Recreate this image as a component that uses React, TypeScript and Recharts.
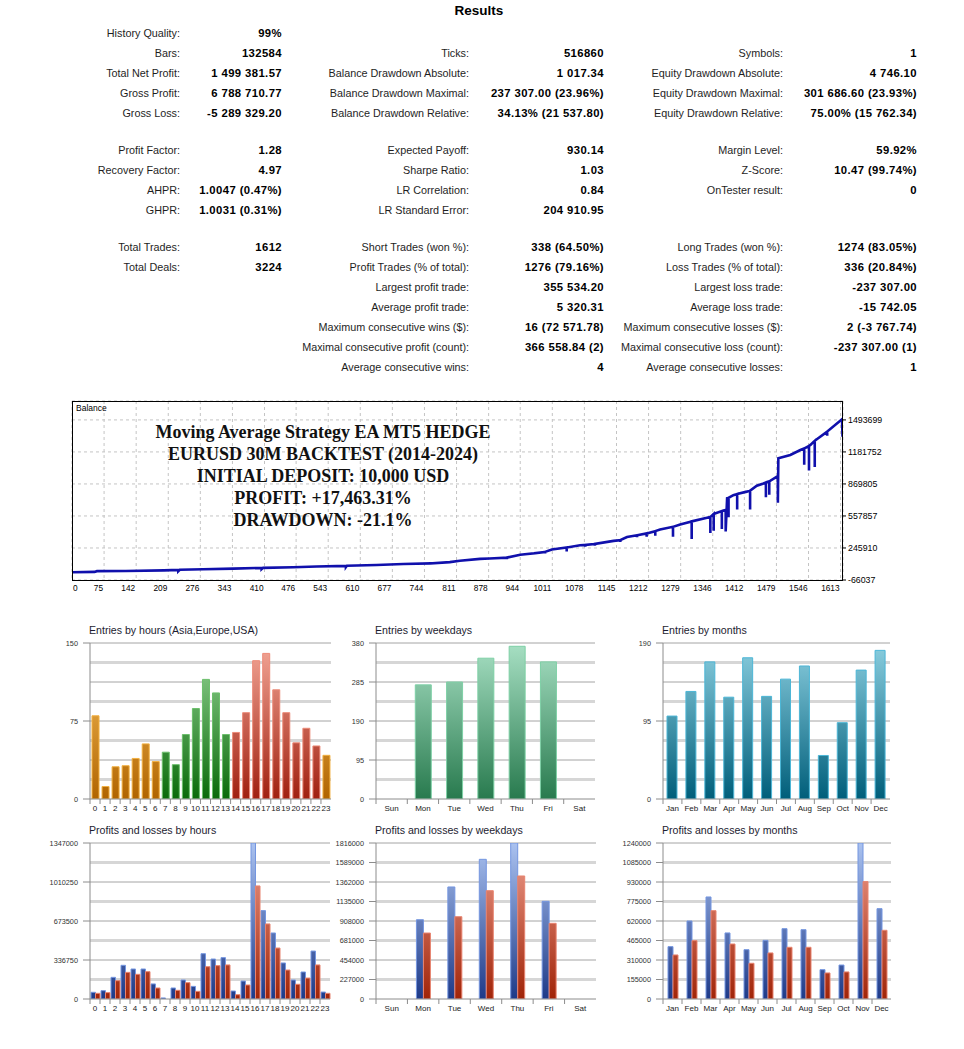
import React from 'react';
import { BarChart, Bar, XAxis, YAxis, CartesianGrid, Cell, LineChart, Line } from 'recharts';

// ---- report values ----
const rowY = [33, 53, 73, 93, 113, 150, 170, 190, 210, 247, 267, 287, 307, 327, 347, 367];

const col1: [number, string, string][] = [
  [0, 'History Quality:', '99%'],
  [1, 'Bars:', '132584'],
  [2, 'Total Net Profit:', '1 499 381.57'],
  [3, 'Gross Profit:', '6 788 710.77'],
  [4, 'Gross Loss:', '-5 289 329.20'],
  [5, 'Profit Factor:', '1.28'],
  [6, 'Recovery Factor:', '4.97'],
  [7, 'AHPR:', '1.0047 (0.47%)'],
  [8, 'GHPR:', '1.0031 (0.31%)'],
  [9, 'Total Trades:', '1612'],
  [10, 'Total Deals:', '3224'],
];
const col2: [number, string, string][] = [
  [1, 'Ticks:', '516860'],
  [2, 'Balance Drawdown Absolute:', '1 017.34'],
  [3, 'Balance Drawdown Maximal:', '237 307.00 (23.96%)'],
  [4, 'Balance Drawdown Relative:', '34.13% (21 537.80)'],
  [5, 'Expected Payoff:', '930.14'],
  [6, 'Sharpe Ratio:', '1.03'],
  [7, 'LR Correlation:', '0.84'],
  [8, 'LR Standard Error:', '204 910.95'],
  [9, 'Short Trades (won %):', '338 (64.50%)'],
  [10, 'Profit Trades (% of total):', '1276 (79.16%)'],
  [11, 'Largest profit trade:', '355 534.20'],
  [12, 'Average profit trade:', '5 320.31'],
  [13, 'Maximum consecutive wins ($):', '16 (72 571.78)'],
  [14, 'Maximal consecutive profit (count):', '366 558.84 (2)'],
  [15, 'Average consecutive wins:', '4'],
];
const col3: [number, string, string][] = [
  [1, 'Symbols:', '1'],
  [2, 'Equity Drawdown Absolute:', '4 746.10'],
  [3, 'Equity Drawdown Maximal:', '301 686.60 (23.93%)'],
  [4, 'Equity Drawdown Relative:', '75.00% (15 762.34)'],
  [5, 'Margin Level:', '59.92%'],
  [6, 'Z-Score:', '10.47 (99.74%)'],
  [7, 'OnTester result:', '0'],
  [9, 'Long Trades (won %):', '1274 (83.05%)'],
  [10, 'Loss Trades (% of total):', '336 (20.84%)'],
  [11, 'Largest loss trade:', '-237 307.00'],
  [12, 'Average loss trade:', '-15 742.05'],
  [13, 'Maximum consecutive losses ($):', '2 (-3 767.74)'],
  [14, 'Maximal consecutive loss (count):', '-237 307.00 (1)'],
  [15, 'Average consecutive losses:', '1'],
];

// ---- balance curve (trade #, balance); repeated trade # = drawdown spike ----
const balanceTrade = [
  8, 55, 60, 120, 200, 230, 230, 233, 282, 345, 404, 404, 407, 470, 519, 580, 580, 582, 644, 700, 756, 756,
  756, 797, 818, 860, 880, 916, 916, 916, 944, 975, 975, 975, 996, 996, 996, 1010, 1041, 1041, 1041, 1069,
  1080, 1080, 1080, 1100, 1100, 1100, 1139, 1153, 1153, 1153, 1167, 1188, 1188, 1188, 1208, 1208, 1208, 1226,
  1226, 1226, 1236, 1263, 1263, 1263, 1278, 1302, 1302, 1302, 1334, 1341, 1341, 1341, 1348, 1348, 1348, 1365,
  1365, 1365, 1372, 1373, 1373, 1376, 1379, 1379, 1379, 1389, 1397, 1397, 1397, 1417, 1424, 1424, 1424, 1438,
  1452, 1457, 1457, 1457, 1464, 1464, 1464, 1480, 1482, 1482, 1483, 1508, 1529, 1537, 1537, 1537, 1547, 1547,
  1547, 1550, 1557, 1559, 1559, 1559, 1564, 1585, 1585, 1585, 1616, 1617, 1618,
];
const balanceValue = [
  10000, 13000, 20000, 22000, 28000, 33000, 20000, 34000, 38000, 45000, 52000, 40000, 52000, 58000, 66000,
  72000, 60000, 73000, 80000, 90000, 96000, 82000, 96000, 108000, 122000, 140000, 143000, 152000, 135000,
  152000, 180000, 195000, 185000, 195000, 208000, 192000, 208000, 232000, 250000, 212000, 250000, 272000,
  276000, 258000, 276000, 285000, 268000, 285000, 315000, 322000, 305000, 322000, 352000, 370000, 350000,
  370000, 388000, 356000, 388000, 410000, 365000, 410000, 426000, 452000, 356000, 452000, 475000, 505000,
  334000, 505000, 540000, 548000, 393000, 548000, 578000, 415000, 578000, 605000, 432000, 605000, 616000,
  618000, 406000, 730000, 735000, 546000, 735000, 760000, 772000, 621000, 772000, 795000, 805000, 621000,
  805000, 852000, 875000, 885000, 741000, 885000, 895000, 764000, 895000, 940000, 945000, 686000, 1120000,
  1152000, 1200000, 1215000, 1057000, 1215000, 1240000, 1002000, 1240000, 1250000, 1282000, 1290000, 1034000,
  1290000, 1308000, 1380000, 1340000, 1380000, 1500000, 1331000, 1505000,
];
const balanceXLabels = ['0', '75', '142', '209', '276', '343', '410', '476', '543', '610', '677', '744', '811',
  '878', '944', '1011', '1078', '1145', '1212', '1279', '1346', '1412', '1479', '1546', '1613'];
const balanceYTicks = [-66037, 245910, 557857, 869805, 1181752, 1493699];

// ---- distribution charts ----
const hours = ['0', '1', '2', '3', '4', '5', '6', '7', '8', '9', '10', '11', '12', '13', '14', '15', '16', '17',
  '18', '19', '20', '21', '22', '23'];
const hourSessions = ['asia', 'asia', 'asia', 'asia', 'asia', 'asia', 'asia', 'europe', 'europe', 'europe',
  'europe', 'europe', 'europe', 'europe', 'usa', 'usa', 'usa', 'usa', 'usa', 'usa', 'usa', 'usa', 'usa', 'asia'];
const hourEntries = [80, 12, 31, 32, 39, 53, 36, 45, 33, 62, 87, 115, 102, 62, 64, 83, 133, 140, 105, 83, 54, 68, 51, 42];
const weekdays = ['Sun', 'Mon', 'Tue', 'Wed', 'Thu', 'Fri', 'Sat'];
const weekdayEntries = [0, 278, 285, 343, 372, 334, 0];
const months = ['Jan', 'Feb', 'Mar', 'Apr', 'May', 'Jun', 'Jul', 'Aug', 'Sep', 'Oct', 'Nov', 'Dec'];
const monthEntries = [101, 131, 167, 124, 172, 125, 146, 162, 53, 93, 157, 181];

const hourProfits = [58000, 72000, 187000, 291000, 259000, 259000, 130000, 9000, 95000, 164000, 109000, 391000,
  345000, 357000, 69000, 155000, 1347000, 763000, 570000, 311000, 164000, 233000, 414000, 60000];
const hourLosses = [49000, 55000, 158000, 230000, 213000, 236000, 95000, 0, 75000, 141000, 66000, 279000,
  288000, 294000, 37000, 121000, 976000, 648000, 440000, 250000, 127000, 181000, 294000, 49000];
const weekdayProfits = [0, 923000, 1304000, 1626000, 1816000, 1137000, 0];
const weekdayLosses = [0, 768000, 958000, 1261000, 1432000, 881000, 0];
const monthProfits = [416000, 620000, 811000, 525000, 392000, 466000, 559000, 551000, 233000, 270000, 1240000, 718000];
const monthLosses = [350000, 464000, 702000, 437000, 284000, 366000, 411000, 411000, 207000, 215000, 933000, 546000];

const sessionFill: Record<string, string> = { asia: 'url(#gOrange)', europe: 'url(#gGreen)', usa: 'url(#gRed)' };
const sessionStroke: Record<string, string> = { asia: '#f2b040', europe: '#6cbf6c', usa: '#ec8a78' };

const SANS = '"Liberation Sans", Arial, sans-serif';
const PLOT_H = 156;
const T = 6;

type Series = { key: string; values: number[]; fill: string; stroke: string };

function MiniChart(props: {
  title: string; left: number; top: number; plotW: number; categories: string[]; series: Series[];
  yMax: number; labelStep: number; barSize: number; cellFill?: string[]; cellStroke?: string[];
}) {
  const { title, left, top, plotW, categories, series, yMax, labelStep, barSize, cellFill, cellStroke } = props;
  const L = 60, R = 4, B = 24;
  const W = plotW + L + R, H = PLOT_H + T + B;
  const data = categories.map((c, i) => {
    const row: any = { name: c };
    series.forEach((s) => (row[s.key] = s.values[i]));
    return row;
  });
  const steps = [0, 1, 2, 3, 4, 5, 6, 7, 8];
  const yTicks = steps.filter((i) => i % labelStep === 0).map((i) => (yMax * i) / 8);
  const darkPts = steps.filter((i) => i > 0 && i % 2 === 0).map((i) => T + PLOT_H * (1 - i / 8));
  const lightPts = steps.filter((i) => i % 2 === 1).map((i) => T + PLOT_H * (1 - i / 8));
  const band = plotW / categories.length;
  const yb = T + PLOT_H;

  const renderTick = (p: any) => {
    const bx = p.x - band / 2;
    return (
      <g>
        <line x1={bx} x2={bx} y1={yb} y2={yb + 5} stroke="#8c8c8c" />
        <text x={p.x} y={yb + 12} textAnchor="middle" fontSize={8} fill="#222" fontFamily={SANS}>
          {p.payload.value}
        </text>
      </g>
    );
  };

  return (
    <>
      <div style={{ position: 'absolute', left: left - 1, top: top - 19, fontFamily: SANS, fontSize: 10.6, color: '#1c1c30', whiteSpace: 'nowrap' }}>
        {title}
      </div>
      <div style={{ position: 'absolute', left: left - L, top: top - T, width: W, height: H }}>
        <BarChart width={W} height={H} data={data} margin={{ top: T, right: R, bottom: 0, left: 0 }} barGap={0} barCategoryGap={0}>
          <defs>
            <linearGradient id="gOrange" gradientUnits="userSpaceOnUse" x1={0} y1={T} x2={0} y2={yb}>
              <stop offset="0%" stopColor="#ffc864" />
              <stop offset="100%" stopColor="#b06400" />
            </linearGradient>
            <linearGradient id="gGreen" gradientUnits="userSpaceOnUse" x1={0} y1={T} x2={0} y2={yb}>
              <stop offset="0%" stopColor="#9ad89a" />
              <stop offset="100%" stopColor="#0a6a0a" />
            </linearGradient>
            <linearGradient id="gRed" gradientUnits="userSpaceOnUse" x1={0} y1={T} x2={0} y2={yb}>
              <stop offset="0%" stopColor="#f4a898" />
              <stop offset="100%" stopColor="#a02010" />
            </linearGradient>
            <linearGradient id="gMint" gradientUnits="userSpaceOnUse" x1={0} y1={T} x2={0} y2={yb}>
              <stop offset="0%" stopColor="#a8e0c4" />
              <stop offset="100%" stopColor="#287a4e" />
            </linearGradient>
            <linearGradient id="gTeal" gradientUnits="userSpaceOnUse" x1={0} y1={T} x2={0} y2={yb}>
              <stop offset="0%" stopColor="#8ccfe0" />
              <stop offset="100%" stopColor="#005e7a" />
            </linearGradient>
            <linearGradient id="gBlue" gradientUnits="userSpaceOnUse" x1={0} y1={T} x2={0} y2={yb}>
              <stop offset="0%" stopColor="#aac2f0" />
              <stop offset="100%" stopColor="#1e3a88" />
            </linearGradient>
            <linearGradient id="gBrick" gradientUnits="userSpaceOnUse" x1={0} y1={T} x2={0} y2={yb}>
              <stop offset="0%" stopColor="#f0a090" />
              <stop offset="100%" stopColor="#a02408" />
            </linearGradient>
          </defs>
          <CartesianGrid vertical={false} horizontalPoints={lightPts} stroke="#d6d6d6" strokeWidth={3} />
          <CartesianGrid vertical={false} horizontalPoints={darkPts} stroke="#a4a4a4" strokeWidth={1} />
          <XAxis dataKey="name" interval={0} height={B} axisLine={{ stroke: '#8c8c8c' }} tickLine={false} tick={renderTick} />
          <YAxis
            domain={[0, yMax]}
            ticks={yTicks}
            interval={0}
            width={L}
            tickSize={7}
            tickMargin={5}
            axisLine={{ stroke: '#8c8c8c' }}
            tickLine={{ stroke: '#8c8c8c' }}
            tick={{ fontSize: 7.3, fill: '#333', fontFamily: SANS }}
            allowDataOverflow
          />
          {series.map((s) => (
            <Bar key={s.key} dataKey={s.key} fill={s.fill} stroke={s.stroke} strokeWidth={1} barSize={barSize} isAnimationActive={false}>
              {cellFill && data.map((_, i) => <Cell key={i} fill={cellFill[i]} stroke={cellStroke ? cellStroke[i] : s.stroke} />)}
            </Bar>
          ))}
        </BarChart>
      </div>
    </>
  );
}

function StatColumn({ rows, labelRight, valueRight }: { rows: [number, string, string][]; labelRight: number; valueRight: number }) {
  return (
    <>
      {rows.map(([r, label, value]) => (
        <React.Fragment key={label}>
          <div style={{ position: 'absolute', right: 964 - labelRight, top: rowY[r] - 7, lineHeight: '14px', fontSize: 10.8, fontFamily: SANS, color: '#1e1e1e', whiteSpace: 'nowrap' }}>
            {label}
          </div>
          <div style={{ position: 'absolute', right: 964 - valueRight, top: rowY[r] - 7, lineHeight: '14px', fontSize: 11.3, letterSpacing: 0.4, fontWeight: 'bold', fontFamily: SANS, color: '#000', whiteSpace: 'nowrap' }}>
            {value}
          </div>
        </React.Fragment>
      ))}
    </>
  );
}

const BAL_TOP = 380;

export default function App() {
  const balanceData = balanceTrade.map((t, i) => ({ t, v: balanceValue[i] }));
  const xDomain = [8, 1618];
  const xTicks = balanceXLabels.map((l) => Math.max(Number(l), xDomain[0]));
  const plotLeft = 72;

  const balanceTick = (p: any) => {
    const first = p.index === 0;
    return (
      <text x={first ? plotLeft + 1 : p.x - 1} y={591 - BAL_TOP} textAnchor={first ? 'start' : 'end'} fontSize={8.3} fill="#000" fontFamily={SANS}>
        {balanceXLabels[p.index]}
      </text>
    );
  };

  return (
    <div style={{ position: 'absolute', left: 0, top: 0, width: 964, height: 1049, overflow: 'hidden', background: '#fff' }}>
      <div style={{ position: 'absolute', left: 404, width: 150, top: 3, textAlign: 'center', fontFamily: SANS, fontWeight: 'bold', fontSize: 13.5, color: '#000' }}>
        Results
      </div>
      <StatColumn rows={col1} labelRight={180} valueRight={282} />
      <StatColumn rows={col2} labelRight={469} valueRight={604} />
      <StatColumn rows={col3} labelRight={783} valueRight={917} />

      {/* balance graph */}
      <div style={{ position: 'absolute', left: 0, top: BAL_TOP, width: 964, height: 230 }}>
        <LineChart width={964} height={230} data={balanceData} margin={{ top: 21, right: 61, bottom: 0, left: plotLeft }}>
          <CartesianGrid strokeDasharray="3 3" stroke="#c4c4c4" />
          <XAxis
            type="number"
            dataKey="t"
            domain={xDomain}
            ticks={xTicks}
            interval={0}
            allowDataOverflow
            height={30}
            axisLine={false}
            tickLine={false}
            tick={balanceTick}
          />
          <YAxis
            orientation="right"
            domain={[-66037, 1678000]}
            ticks={balanceYTicks}
            interval={0}
            allowDataOverflow
            width={60}
            axisLine={false}
            tickSize={3}
            tickMargin={2}
            tickLine={{ stroke: '#000' }}
            tick={{ fontSize: 8.8, fill: '#000', fontFamily: SANS }}
          />
          <Line type="linear" dataKey="v" stroke="#1010ac" strokeWidth={2.6} dot={false} isAnimationActive={false} />
        </LineChart>
      </div>
      <div style={{ position: 'absolute', left: 72, top: 401, width: 771, height: 180, boxSizing: 'border-box', border: '1px solid #000', pointerEvents: 'none' }} />
      <div style={{ position: 'absolute', left: 76, top: 403, fontFamily: SANS, fontSize: 8.5, color: '#000' }}>Balance</div>
      <div style={{ position: 'absolute', left: 123, width: 400, top: 421, textAlign: 'center', fontFamily: '"Liberation Serif", "Times New Roman", serif', fontWeight: 'bold', fontSize: 18, lineHeight: '22px', color: '#111' }}>
        <div>Moving Average Strategy EA MT5 HEDGE</div>
        <div>EURUSD 30M BACKTEST (2014-2024)</div>
        <div>INITIAL DEPOSIT: 10,000 USD</div>
        <div>PROFIT: +17,463.31%</div>
        <div>DRAWDOWN: -21.1%</div>
      </div>

      {/* entries */}
      <MiniChart
        title="Entries by hours (Asia,Europe,USA)"
        left={90} top={643} plotW={241}
        categories={hours}
        series={[{ key: 'entries', values: hourEntries, fill: 'url(#gOrange)', stroke: '#f2b040' }]}
        cellFill={hourSessions.map((s) => sessionFill[s])}
        cellStroke={hourSessions.map((s) => sessionStroke[s])}
        yMax={150} labelStep={4} barSize={7}
      />
      <MiniChart
        title="Entries by weekdays"
        left={376} top={643} plotW={219}
        categories={weekdays}
        series={[{ key: 'entries', values: weekdayEntries, fill: 'url(#gMint)', stroke: '#7ed0a6' }]}
        yMax={380} labelStep={2} barSize={16}
      />
      <MiniChart
        title="Entries by months"
        left={663} top={643} plotW={227}
        categories={months}
        series={[{ key: 'entries', values: monthEntries, fill: 'url(#gTeal)', stroke: '#4cb6d6' }]}
        yMax={190} labelStep={4} barSize={10}
      />

      {/* profits and losses */}
      <MiniChart
        title="Profits and losses by hours"
        left={90} top={843} plotW={240}
        categories={hours}
        series={[
          { key: 'profit', values: hourProfits, fill: 'url(#gBlue)', stroke: '#7496e0' },
          { key: 'loss', values: hourLosses, fill: 'url(#gBrick)', stroke: '#e88470' },
        ]}
        yMax={1347000} labelStep={2} barSize={5}
      />
      <MiniChart
        title="Profits and losses by weekdays"
        left={376} top={843} plotW={220}
        categories={weekdays}
        series={[
          { key: 'profit', values: weekdayProfits, fill: 'url(#gBlue)', stroke: '#7496e0' },
          { key: 'loss', values: weekdayLosses, fill: 'url(#gBrick)', stroke: '#e88470' },
        ]}
        yMax={1816000} labelStep={1} barSize={7}
      />
      <MiniChart
        title="Profits and losses by months"
        left={663} top={843} plotW={228}
        categories={months}
        series={[
          { key: 'profit', values: monthProfits, fill: 'url(#gBlue)', stroke: '#7496e0' },
          { key: 'loss', values: monthLosses, fill: 'url(#gBrick)', stroke: '#e88470' },
        ]}
        yMax={1240000} labelStep={1} barSize={5}
      />
    </div>
  );
}
